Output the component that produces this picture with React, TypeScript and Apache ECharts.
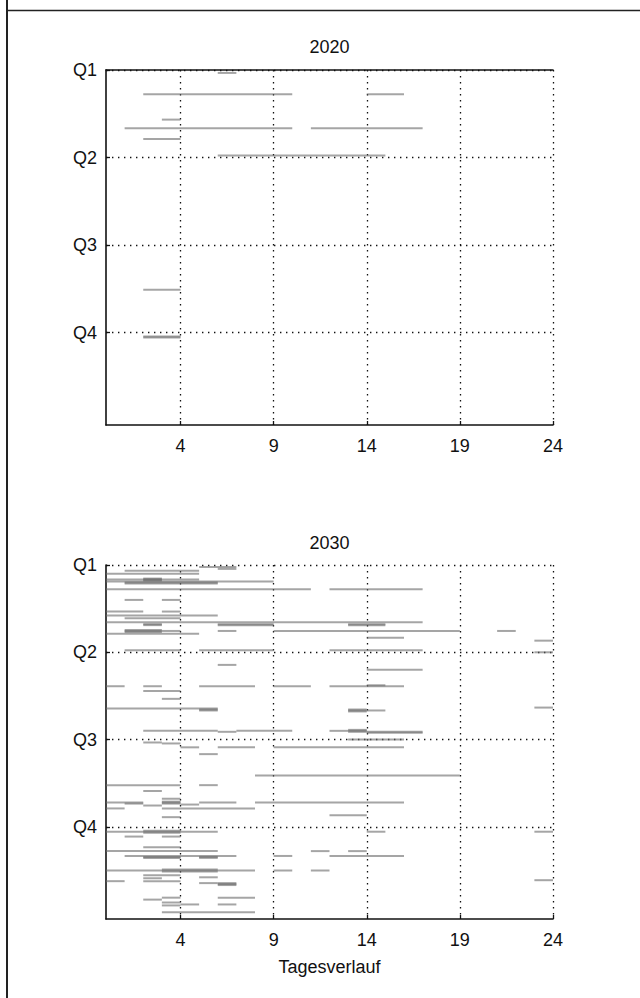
import React, { useEffect, useRef } from 'react';
import * as echarts from 'echarts';

// Axis ticks and labels
const hourTicks = [4, 9, 14, 19, 24];
const quarterDays = [0, 90, 180, 270];
const quarterLabels = ['Q1', 'Q2', 'Q3', 'Q4'];
const panelTitles = ['2020', '2030'];
const xAxisName = 'Tagesverlauf';

// Events: [day of year, start hour, end hour]
const events2020 = [
  [3, 6, 7],
  [25, 2, 10],
  [25, 14, 16],
  [51, 3, 4],
  [60, 1, 10],
  [60, 11, 17],
  [71, 2, 4],
  [88, 6, 15],
  [226, 2, 4],
  [274, 2, 4],
  [275, 2, 4],
];

const events2030 = [
  [2, 5, 7], [4, 6, 7], [6, 1, 5], [9, 0, 5],
  [14, 2, 3], [15, 2, 3], [16, 2, 3], [15, 0, 5],
  [17, 0, 9], [18, 1, 6], [19, 1, 6],
  [25, 0, 11], [25, 12, 17],
  [36, 1, 2], [36, 3, 4],
  [48, 0, 2], [48, 3, 4],
  [52, 0, 6], [55, 1, 4],
  [59, 0, 17], [61, 2, 3], [62, 2, 3], [61, 6, 9], [62, 6, 9], [61, 13, 15], [62, 13, 15],
  [67, 1, 3], [68, 1, 3], [69, 1, 3], [68, 3, 4],
  [68, 6, 7], [68, 9, 19], [68, 21, 22],
  [71, 0, 5], [75, 14, 16], [78, 23, 24],
  [88, 1, 4], [88, 5, 9], [88, 12, 17], [90, 23, 24],
  [103, 6, 7], [108, 14, 17],
  [124, 14, 15], [125, 0, 1], [125, 2, 3], [125, 5, 8], [125, 9, 11], [125, 12, 14], [125, 14, 16],
  [130, 2, 4], [138, 3, 4], [147, 23, 24],
  [148, 0, 6], [149, 5, 6], [150, 5, 6],
  [149, 13, 14], [150, 13, 14], [151, 13, 14], [150, 14, 15],
  [171, 2, 6], [172, 6, 7], [171, 7, 10], [171, 12, 13],
  [170, 13, 14], [171, 13, 14], [172, 13, 14],
  [172, 14, 17], [173, 14, 17],
  [180, 13, 16],
  [183, 2, 3], [184, 3, 4],
  [188, 4, 5], [188, 6, 8], [188, 9, 16],
  [195, 5, 6], [217, 8, 19],
  [227, 0, 4], [227, 5, 6], [233, 2, 3], [241, 3, 4],
  [245, 0, 2], [246, 1, 2], [248, 2, 3], [244, 3, 4], [245, 3, 4], [246, 3, 4],
  [247, 4, 5], [245, 5, 7], [245, 8, 16],
  [251, 0, 1], [251, 3, 8], [258, 12, 14], [260, 3, 4],
  [275, 14, 15], [275, 23, 24], [275, 0, 6], [274, 2, 4], [276, 2, 4],
  [280, 1, 2], [280, 3, 4], [291, 2, 4],
  [295, 0, 6], [295, 11, 12], [295, 13, 14],
  [300, 1, 7], [301, 2, 4], [302, 2, 4], [301, 5, 6], [302, 5, 6], [300, 9, 10], [300, 12, 16],
  [315, 0, 8], [314, 3, 6], [316, 3, 6], [315, 9, 10], [315, 11, 12],
  [320, 2, 4], [323, 2, 3], [322, 5, 6],
  [325, 23, 24], [326, 0, 1], [326, 2, 4], [328, 5, 6], [328, 6, 7], [329, 6, 7], [330, 6, 7],
  [343, 3, 4], [345, 2, 3], [343, 6, 8],
  [348, 3, 4], [350, 4, 5], [350, 6, 7], [351, 3, 4],
  [358, 3, 8],
];

const FONT = 'Liberation Sans, Arial, sans-serif';
const dotted = { type: [1.4, 4.6] as any, color: '#111', width: 1.3 };

function xAxisFor(gridIndex: number, withName: boolean) {
  return {
    type: 'value',
    gridIndex,
    min: 0,
    max: 24,
    position: 'bottom',
    axisLine: { show: true, onZero: false, lineStyle: { color: '#111', width: 1.6 } },
    axisTick: { show: true, inside: true, length: 4, customValues: hourTicks, lineStyle: { color: '#111', width: 1.3 } },
    axisLabel: { customValues: hourTicks, margin: 12, fontSize: 18, color: '#111', fontFamily: FONT },
    splitLine: { show: true, lineStyle: dotted },
    name: withName ? xAxisName : '',
    nameLocation: 'middle',
    nameGap: 39,
    nameTextStyle: { fontSize: 18, color: '#111', fontFamily: FONT },
  };
}

function yAxisFor(gridIndex: number) {
  return {
    type: 'value',
    gridIndex,
    inverse: true,
    min: 0,
    max: 365,
    axisLine: { show: true, onZero: false, lineStyle: { color: '#111', width: 1.6 } },
    axisTick: { show: true, inside: true, length: 4, customValues: quarterDays, lineStyle: { color: '#111', width: 1.3 } },
    axisLabel: {
      customValues: quarterDays,
      formatter: (v: number) => quarterLabels[quarterDays.indexOf(v)] ?? '',
      margin: 9,
      fontSize: 18,
      color: '#111',
      fontFamily: FONT,
    },
    splitLine: { show: true, lineStyle: dotted },
  };
}

function segmentSeries(data: number[][], xAxisIndex: number, yAxisIndex: number) {
  return {
    type: 'custom',
    xAxisIndex,
    yAxisIndex,
    encode: { x: [1, 2], y: 0 },
    data,
    renderItem: (_params: any, api: any) => {
      const day = api.value(0);
      const p1 = api.coord([api.value(1), day]);
      const p2 = api.coord([api.value(2), day]);
      return {
        type: 'line',
        shape: { x1: p1[0], y1: p1[1], x2: p2[0], y2: p2[1] },
        style: { stroke: 'rgba(105,105,105,0.6)', lineWidth: 2 },
      };
    },
  };
}

export default function App() {
  const ref = useRef<HTMLDivElement>(null);
  useEffect(() => {
    document.body.style.margin = '0';
    const chart = echarts.init(ref.current!, null, { renderer: 'svg' });
    chart.setOption({
      animation: false,
      backgroundColor: '#fff',
      grid: [
        { left: 106, top: 70, width: 447, height: 355 },
        { left: 106, top: 565, width: 447, height: 354 },
      ],
      xAxis: [
        xAxisFor(0, false),
        {
          type: 'value', gridIndex: 0, min: 0, max: 24, position: 'top',
          axisLine: { show: true, onZero: false, lineStyle: { color: '#111', width: 1.6 } },
          axisTick: { show: false }, axisLabel: { show: false }, splitLine: { show: false },
        },
        xAxisFor(1, true),
      ],
      yAxis: [yAxisFor(0), yAxisFor(1)],
      graphic: [
        { type: 'line', shape: { x1: 7, y1: 0, x2: 7, y2: 998 }, style: { stroke: '#222', lineWidth: 2 } },
        { type: 'line', shape: { x1: 7, y1: 10.5, x2: 640, y2: 10.5 }, style: { stroke: '#222', lineWidth: 1.3 } },
        {
          type: 'text', x: 329.5, y: 47,
          style: { text: panelTitles[0], align: 'center', verticalAlign: 'middle', fontSize: 18, fontFamily: FONT, fill: '#111' },
        },
        {
          type: 'text', x: 329.5, y: 543,
          style: { text: panelTitles[1], align: 'center', verticalAlign: 'middle', fontSize: 18, fontFamily: FONT, fill: '#111' },
        },
      ],
      series: [segmentSeries(events2020, 0, 0), segmentSeries(events2030, 2, 1)],
    });
    return () => chart.dispose();
  }, []);
  return <div ref={ref} style={{ width: 640, height: 998 }} />;
}
